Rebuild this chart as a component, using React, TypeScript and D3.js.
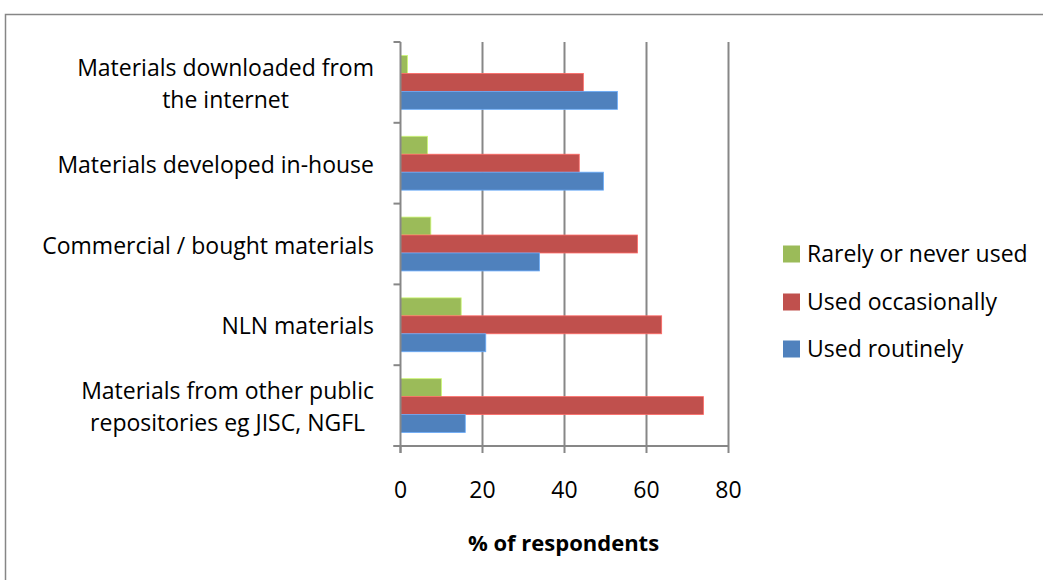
import { useEffect, useRef } from 'react';
import * as d3 from 'd3';

// categories, top to bottom as drawn
const categories = [
  ['Materials downloaded from', 'the internet'],
  ['Materials developed in-house'],
  ['Commercial / bought materials'],
  ['NLN materials'],
  ['Materials from other public', 'repositories eg JISC, NGFL'],
];

// series, order inside each group top to bottom
const seriesNames = ['Rarely or never used', 'Used occasionally', 'Used routinely'];
const rarely = [1.7, 6.6, 7.4, 14.8, 10];
const occasionally = [44.6, 43.6, 57.8, 63.7, 73.9];
const routinely = [52.9, 49.5, 33.9, 20.8, 15.8];
const seriesColors = ['#9bbb59', '#c0504d', '#4f81bd'];
const xTicks = [0, 20, 40, 60, 80];

const FONT = '"Open Sans", Lato, sans-serif';

export default function App() {
  const ref = useRef<SVGSVGElement>(null);

  useEffect(() => {
    if (!ref.current) return;
    const svg = d3.select(ref.current);
    svg.selectAll('*').remove();

    const values = [rarely, occasionally, routinely];
    const left = 400.5, right = 728.5, top = 42, bottom = 446;

    const x = d3.scaleLinear().domain([0, 80]).range([left, right]);
    const y = d3.scaleBand<number>()
      .domain(d3.range(categories.length))
      .range([top, bottom])
      .paddingInner(0)
      .paddingOuter(0);
    const barH = y.bandwidth() / 4.5;
    const inner = d3.scaleBand<number>()
      .domain([0, 1, 2])
      .range([barH * 0.75, y.bandwidth() - barH * 0.75]);

    // outer frame
    svg.append('rect')
      .attr('x', 5.5).attr('y', 14.5)
      .attr('width', 1100).attr('height', 700)
      .attr('fill', 'white')
      .attr('stroke', '#868686').attr('stroke-width', 1.5);

    // gridlines
    svg.append('g')
      .selectAll('line')
      .data(xTicks.slice(1))
      .join('line')
      .attr('x1', d => x(d)).attr('x2', d => x(d))
      .attr('y1', top).attr('y2', bottom)
      .attr('stroke', '#878787').attr('stroke-width', 2);

    // bars
    categories.forEach((_, ci) => {
      const g = svg.append('g').attr('transform', `translate(0,${y(ci)})`);
      values.forEach((vals, si) => {
        g.append('rect')
          .attr('x', x(0))
          .attr('y', inner(si)!)
          .attr('width', x(vals[ci]) - x(0))
          .attr('height', inner.bandwidth())
          .attr('fill', seriesColors[si])
          .attr('stroke', d3.color(seriesColors[si])!.brighter(0.8).toString())
          .attr('stroke-width', 0.8);
      });
    });

    // y axis line and ticks
    svg.append('line')
      .attr('x1', left).attr('x2', left).attr('y1', top).attr('y2', bottom + 7)
      .attr('stroke', '#878787').attr('stroke-width', 2);
    svg.append('g')
      .selectAll('line')
      .data(d3.range(categories.length + 1))
      .join('line')
      .attr('x1', left - 7).attr('x2', left)
      .attr('y1', d => top + d * y.step()).attr('y2', d => top + d * y.step())
      .attr('stroke', '#878787').attr('stroke-width', 2);

    // x axis line and ticks
    svg.append('line')
      .attr('x1', left - 7).attr('x2', right).attr('y1', bottom).attr('y2', bottom)
      .attr('stroke', '#878787').attr('stroke-width', 2);
    svg.append('g')
      .selectAll('line')
      .data(xTicks)
      .join('line')
      .attr('x1', d => x(d)).attr('x2', d => x(d))
      .attr('y1', bottom).attr('y2', bottom + 7)
      .attr('stroke', '#878787').attr('stroke-width', 2);

    svg.append('g')
      .selectAll('text')
      .data(xTicks)
      .join('text')
      .attr('x', d => x(d)).attr('y', 490)
      .attr('dy', '0.35em')
      .attr('text-anchor', 'middle')
      .attr('font-family', FONT).attr('font-size', 23)
      .attr('fill', '#000')
      .text(d => d);

    svg.append('text')
      .attr('x', (left + right) / 2 - 1).attr('y', 543)
      .attr('dy', '0.35em')
      .attr('text-anchor', 'middle')
      .attr('font-family', FONT).attr('font-size', 22).attr('font-weight', 'bold')
      .text('% of respondents');

    // category labels, lines centred on each other, block right aligned
    const labelRight = 374;
    const lineH = 32;
    categories.forEach((lines, ci) => {
      const cy = y(ci)! + y.bandwidth() / 2 + 1.5;
      const t = svg.append('text')
        .attr('font-family', FONT).attr('font-size', 23)
        .attr('fill', '#000');
      const spans = lines.map((ln, li) =>
        t.append('tspan')
          .attr('y', cy + (li - (lines.length - 1) / 2) * lineH)
          .attr('dy', '0.35em')
          .attr('text-anchor', 'middle')
          .text(ln)
      );
      const widths = spans.map(s => (s.node() as SVGTSpanElement).getComputedTextLength());
      const maxW = d3.max(widths) ?? 0;
      spans.forEach(s => s.attr('x', labelRight - maxW / 2));
    });

    // legend
    const legendY = [254, 302, 349];
    seriesNames.forEach((name, i) => {
      const g = svg.append('g').attr('transform', `translate(783,${legendY[i]})`);
      g.append('rect')
        .attr('x', 0).attr('y', -8.5)
        .attr('width', 17).attr('height', 17)
        .attr('fill', seriesColors[i]);
      g.append('text')
        .attr('x', 24).attr('y', 0).attr('dy', '0.35em')
        .attr('font-family', FONT).attr('font-size', 23)
        .text(name);
    });
  }, []);

  return (
    <svg
      ref={ref}
      width={1043}
      height={580}
      style={{ position: 'absolute', left: 0, top: 0, background: 'white' }}
    />
  );
}
